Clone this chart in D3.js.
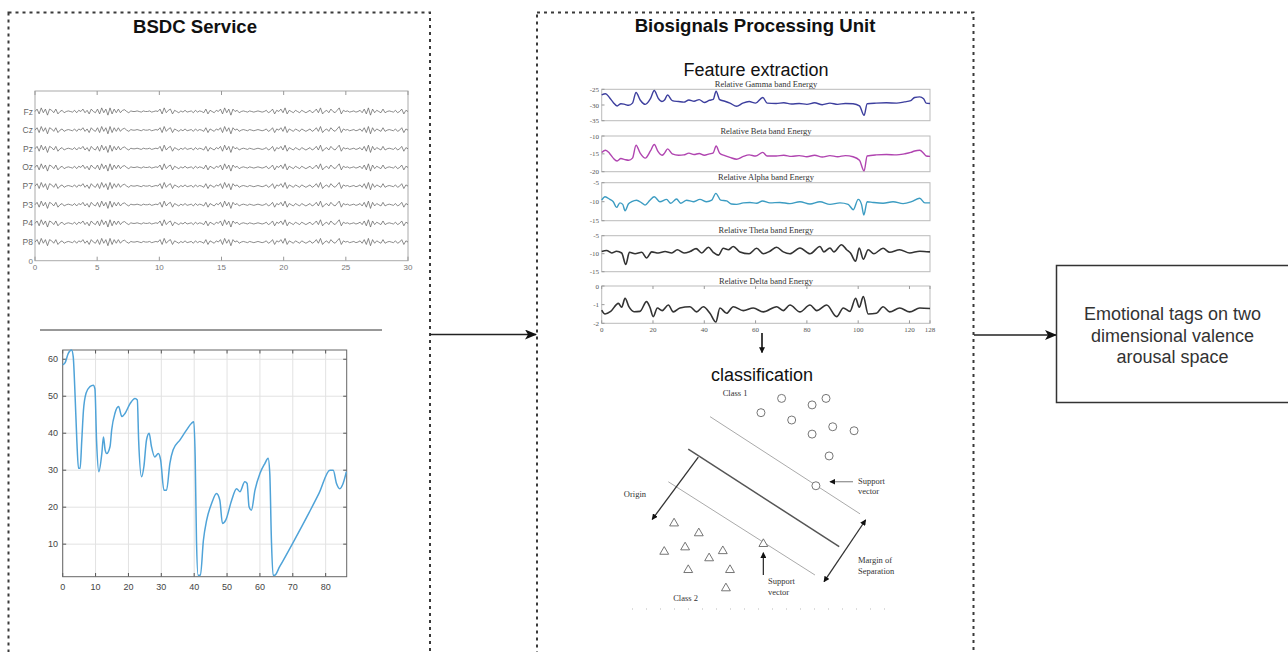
<!DOCTYPE html>
<html><head><meta charset="utf-8">
<script src="https://cdn.jsdelivr.net/npm/d3@7"></script>
<style>body{margin:0;background:#fff}svg{display:block}</style>
</head><body><svg id="c" width="1288" height="652"></svg>
<script>
// ---------------- DATA ----------------
const eegChannels = ["Fz","Cz","Pz","Oz","P7","P3","P4","P8"];
const eegTicks = [0,5,10,15,20,25,30];
const eegSamples = [0,2,-2,3,-1,2,-3,2,1,-1, 2,-2,0,1,-1,0,0.5,0,-0.5,1, -1,1,0,2,-1,1,-2,2,0,-1,
  2,-2,3,-1,2,-3,3,-2,2,-1, 2,-1,1,1.5,0,-1,0.5,0,0,0.5, 0,-0.5,0.5,0,0,0.5,-0.5,0,0.5,0,
  2,-2,3,-1,1,2,-2,1,0,-1, 0.5,-0.5,1,-0.5,0,0.5,-1,1,-0.5,0.5, 0,-1,2,-2,1,0,-1,1,0,2,
  -2,3,-1,2,-3,2,0,1,-1,0, 0.5,0,-0.5,0.5,0,-0.5,0,0.5,0,-0.5, 0,1,-1,0,2,-2,1,0,2,-1,
  3,-2,1,0,-1,1,0,-1,1,0, -1,0,1,-1,0,2,-1,3,-2,0, 1,-1,2,0,-1,1,3,-2,1,0,
  0.5,-0.5,0,0.5,-0.5,0,1,-1,2,-2, 3,-3,2,-1,1,0,-1,2,-1,0, 0.5,0,-0.5,1,-1,0,2,-2,1,0];

const blueX = [0,0.7,1.7,2.7,3.2,3.7,4.3,4.8,5.3,5.8,6.3,7.1,8.3,9.3,9.8,10.3,11,11.9,12.4,12.9,13.4,14.4,14.9,15.9,17,18,19,20.5,22,22.7,23.1,24,24.7,25.5,26.3,27,28,29.1,29.8,30.8,31.6,32.6,33.6,35.7,37.7,39.2,39.9,40.3,40.7,41.2,41.9,42.8,43.8,45.3,46.8,47.8,48.6,49.6,51.4,52.9,53.9,55.4,56.1,56.7,57.4,58.5,60,61.5,62.5,63,63.5,64,64.5,66,70,75,78,81.3,82.3,83.3,84.3,85.3,86.3];
const blueY = [58.5,59,61.6,62.5,60.7,51.7,38,30.5,30.5,38,46,50.8,52.6,53,52,38,29.6,34.5,39,35.5,34.5,36.4,40.9,45.4,47.2,44.5,45.4,48,49.4,49,38.2,28.2,31,38.2,40,36.4,33.6,34.5,32.7,24.6,24.6,31.8,35.5,38.2,40.9,42.7,43.1,33.6,11,1.6,1.6,11,16.5,21,23.7,21.9,15.6,16.5,21.9,25,24.2,26.9,26.4,20.1,19.2,24.6,29.1,31.8,33.2,29.1,11,1.6,1.6,3.9,10.3,18.6,23.8,30,30,26.4,25,26.4,29.6];
const blueXTicks = [0,10,20,30,40,50,60,70,80];
const blueYTicks = [10,20,30,40,50,60];

const bandTitles = ["Relative Gamma band Energy","Relative Beta band Energy","Relative Alpha band Energy","Relative Theta band Energy","Relative Delta band Energy"];
const bandTicks = [[-25,-30,-35],[-10,-15,-20],[-5,-10,-15],[-5,-10,-15],[0,-1,-2]];
const bandXTicks = [0,20,40,60,80,100,120,128];
const gammaPts = [[0,-26.8],[1.5,-26.4],[3,-27.6],[4.5,-29.2],[6,-30.3],[7.5,-29.6],[9,-29.8],[10.5,-30.1],[12,-29.4],[13.4,-26.0],[15,-28.4],[17,-29.8],[19,-28],[20.5,-25.4],[22,-27.8],[23.5,-28.9],[24.5,-28.4],[25.7,-26.8],[27.5,-28.6],[30,-28.9],[32,-29.1],[34,-28.4],[36,-28.8],[38,-28.3],[40,-29.2],[42,-28.5],[43.5,-28.2],[44.6,-25.6],[46,-28.3],[48,-28.8],[50,-29.4],[52.6,-30.4],[55,-29.4],[57.5,-28.9],[60,-29.4],[62.8,-27.6],[64.5,-29.4],[68,-29.5],[71,-29.3],[74,-29.7],[77,-29.5],[80,-29.8],[83,-29.3],[86,-29.9],[89,-29.4],[92,-29.8],[95,-29.5],[98,-29.6],[100.5,-30.3],[102.3,-33.3],[103.5,-29.6],[107,-29.4],[111,-29.3],[115,-29.4],[118,-29.0],[120.5,-28.6],[122,-27.6],[124,-27.4],[125.5,-28.0],[126.5,-29.4],[128,-29.5]];
const betaPts = [[0,-14.6],[1.5,-14.0],[3,-14.8],[4.5,-16.2],[6,-17.0],[7.5,-16.3],[9,-16.6],[10.5,-16.8],[12,-16.2],[13.4,-12.6],[15,-14.8],[17,-16.2],[19,-14.2],[20.5,-12.4],[22,-14.4],[23.5,-15.4],[24.5,-14.8],[25.7,-13.6],[27.5,-15.0],[30,-15.4],[32,-15.3],[34,-14.8],[36,-15.2],[38,-14.9],[40,-15.4],[42,-15.0],[43.5,-14.7],[44.6,-12.8],[46,-14.8],[48,-15.5],[50,-16.0],[52.6,-16.5],[55,-15.8],[57.5,-15.3],[60,-15.6],[62.8,-14.6],[64.5,-15.6],[68,-15.6],[71,-15.4],[74,-15.7],[77,-15.5],[80,-15.8],[83,-15.4],[86,-15.9],[89,-15.5],[92,-15.8],[95,-15.5],[98,-15.8],[100.5,-16.8],[102.3,-19.8],[103.5,-15.6],[107,-15.3],[111,-15.2],[115,-15.3],[118,-15.0],[120.5,-14.6],[122,-14.2],[124,-14.0],[125.5,-14.8],[126.5,-15.6],[128,-15.7]];
const alphaPts = [[0,-9.6],[1.3,-8.7],[3.2,-9.4],[4.5,-10],[5.8,-11.5],[7.1,-10.3],[8.2,-10.7],[9.1,-12.4],[10.4,-10.6],[11.7,-10],[13.6,-9.6],[15.6,-10.3],[16.9,-10.9],[18.8,-9.6],[20.5,-8.7],[22.7,-10],[25.3,-9.4],[26.9,-10.4],[29.2,-9.3],[30.8,-10.4],[33.1,-9.6],[35.7,-10],[38.3,-9.4],[40.9,-10],[42.9,-9.6],[44.5,-7.8],[46.4,-9.6],[48.7,-9.8],[50.6,-10.6],[52.6,-10.7],[55.2,-10.3],[57.8,-10.2],[60.4,-10.4],[62.7,-9.8],[65.6,-10.3],[69.5,-10.2],[73.4,-10.5],[77.3,-10],[81.2,-10.6],[85.1,-10],[89,-10.7],[92.9,-10.3],[96.1,-10.7],[98.1,-12.1],[100,-9.4],[101.3,-10.7],[102.2,-13.5],[103.5,-10],[105.8,-10.2],[109.7,-10.4],[113.6,-10],[117.5,-10.5],[120.8,-10],[124,-9.1],[126,-10.3],[128,-10.3]];
const thetaPts = [[0,-9.4],[1.9,-9.1],[3.9,-9.8],[5.8,-9.3],[7.8,-9.8],[9.4,-13],[10.8,-9.6],[13,-10],[15.6,-9.6],[17.5,-11.2],[19.5,-9.5],[22.1,-9.8],[24.7,-9.4],[27.3,-9.8],[29.5,-8.9],[32.1,-9.8],[34.4,-9.4],[36.8,-8.6],[39,-9.8],[41.6,-8.2],[43.5,-9.6],[45.5,-10.4],[47.4,-8.5],[49.4,-8.9],[51.3,-8],[53.9,-9.5],[57.5,-10],[60.4,-8.5],[63,-10],[65.6,-9.3],[68.2,-8.2],[70.8,-9.5],[73.4,-10],[77.3,-8.4],[81.2,-10],[85.1,-8],[86.6,-9.5],[89,-8.4],[90.5,-9.5],[93.5,-7.5],[95.5,-8.9],[97,-9.8],[99,-12.1],[100.4,-8.4],[102,-11.5],[103.9,-8.9],[106.1,-10],[109.7,-8.5],[112.3,-9.6],[116.2,-8.9],[120.1,-9.8],[124,-9.3],[128,-9.5]];
const deltaPts = [[0,-1.29],[1.3,-1.5],[3.5,-1.36],[6.5,-0.93],[7.8,-1.14],[9.1,-0.66],[10.6,-1.11],[12.6,-1.38],[14.9,-1.36],[17.5,-0.84],[18.8,-1.14],[20.1,-1.64],[21.7,-1.18],[23.6,-1.32],[26,-1.02],[27.9,-1.39],[30.5,-1.18],[34.4,-1.11],[37,-1.39],[39.6,-1.11],[42.2,-1.46],[44.5,-1.93],[46.1,-1.18],[48.7,-1.46],[51.3,-1.11],[55.2,-1.32],[59.1,-1.18],[63,-1.39],[68.2,-1.11],[70.8,-1.32],[73.4,-1.02],[77.3,-1.39],[81.2,-1.02],[83.8,-1.32],[87.7,-1.02],[91.6,-1.64],[94.2,-1.18],[96.8,-1.36],[99,-0.66],[100.4,-1.14],[102,-0.57],[103.9,-1.5],[107.1,-1.46],[109.7,-1.11],[112.3,-1.39],[116.2,-1.18],[120.1,-1.39],[124,-1.18],[128,-1.21]];

const class1Pts = [[59,4],[77.5,4],[71.7,7.1],[50.4,10.8],[63.2,14.3],[80.3,17.5],[71.7,21],[89.2,19.4],[78.8,31.4],[73.3,45.6]];
const class2Pts = [[14.2,63.5],[24.5,68.2],[51.4,73.3],[10.1,77],[18.8,74.9],[34.5,76.7],[28.8,80.1],[20.1,85.7],[37.5,85.7],[35.8,94.4]];
const upperMargin = [[29.2,12.7],[91.7,59]];
const hyperplane = [[20.1,28.2],[83,74.6]];
const lowerMargin = [[11.8,43.7],[72.9,88.1]];
const originVec = [[24.3,32],[5.1,61.6]];
const supportVecArrow1 = [[88.75,43.7],[79.2,43.7]];
const marginArrow = [[94,61.9],[76.7,91.3]];
const supportVecArrow2 = [[51.4,88.1],[51.4,77.5]];

const boxLines = ["Emotional tags on two","dimensional valence","arousal space"];

// ---------------- DRAW ----------------
const svg = d3.select("#c");
const SANS = "'Liberation Sans', Arial, Helvetica, sans-serif";
const SERIF = "'Liberation Serif', 'Times New Roman', serif";

const defs = svg.append("defs");
defs.append("marker").attr("id","big").attr("viewBox","0 0 12 10").attr("refX",11).attr("refY",5)
  .attr("markerWidth",12).attr("markerHeight",10).attr("markerUnits","userSpaceOnUse").attr("orient","auto")
  .append("path").attr("d","M0,0 L12,5 L0,10 L3,5 Z").attr("fill","#111");
defs.append("marker").attr("id","small").attr("viewBox","0 0 8 8").attr("refX",7).attr("refY",4)
  .attr("markerWidth",6).attr("markerHeight",6).attr("markerUnits","userSpaceOnUse").attr("orient","auto")
  .append("path").attr("d","M0,0 L8,4 L0,8 Z").attr("fill","#111");
defs.append("marker").attr("id","smallStart").attr("viewBox","0 0 8 8").attr("refX",1).attr("refY",4)
  .attr("markerWidth",6).attr("markerHeight",6).attr("markerUnits","userSpaceOnUse").attr("orient","auto")
  .append("path").attr("d","M8,0 L0,4 L8,8 Z").attr("fill","#111");

// dashed containers
[[8.5,12.5,421.5,700],[537,12.5,436.5,700]].forEach(b=>{
  svg.append("rect").attr("x",b[0]).attr("y",b[1]).attr("width",b[2]).attr("height",b[3])
    .attr("fill","none").attr("stroke","#3a3a3a").attr("stroke-width",2).attr("stroke-dasharray","3,4");
});
svg.append("text").attr("x",195).attr("y",33).attr("text-anchor","middle").attr("font-family",SANS)
  .attr("font-weight","bold").attr("font-size",18.6).attr("fill","#111").text("BSDC Service");
svg.append("text").attr("x",755).attr("y",32).attr("text-anchor","middle").attr("font-family",SANS)
  .attr("font-weight","bold").attr("font-size",18.6).attr("fill","#111").text("Biosignals Processing Unit");

// ---- EEG panel ----
const eegX = d3.scaleLinear().domain([0,30]).range([35,408]);
const eegY = d3.scaleLinear().domain([0,9.1]).range([260.7,91]);
const eg = svg.append("g");
eg.append("rect").attr("x",35).attr("y",91).attr("width",373).attr("height",169.7)
  .attr("fill","none").attr("stroke","#aaa").attr("stroke-width",1);
eegTicks.forEach(t=>{
  eg.append("line").attr("x1",eegX(t)).attr("x2",eegX(t)).attr("y1",91).attr("y2",95).attr("stroke","#999");
  eg.append("line").attr("x1",eegX(t)).attr("x2",eegX(t)).attr("y1",260.7).attr("y2",256.7).attr("stroke","#999");
  eg.append("text").attr("x",eegX(t)).attr("y",270).attr("text-anchor","middle").attr("font-family",SANS)
    .attr("font-size",8).attr("fill","#777").text(t);
});
eg.append("text").attr("x",33).attr("y",eegY(0)+3).attr("text-anchor","end").attr("font-family",SANS)
  .attr("font-size",8).attr("fill","#777").text("0");
const nS = eegSamples.length;
eegChannels.forEach((ch,i)=>{
  const base = 8 - i;
  const line = d3.line().x((d,j)=>eegX(j/(nS-1)*30)).y(d=>eegY(base + d*0.065));
  eg.append("path").attr("d",line(eegSamples)).attr("fill","none").attr("stroke","#666").attr("stroke-width",0.75);
  eg.append("text").attr("x",33).attr("y",eegY(base)+3).attr("text-anchor","end").attr("font-family",SANS)
    .attr("font-size",8.5).attr("fill","#666").text(ch);
});

// separator line
svg.append("line").attr("x1",40).attr("x2",382).attr("y1",330).attr("y2",330).attr("stroke","#333").attr("stroke-width",1);

// ---- Blue chart ----
const bx = d3.scaleLinear().domain([0,86.4]).range([62.7,346.7]);
const by = d3.scaleLinear().domain([1.2,62.5]).range([576.7,350]);
const bg = svg.append("g");
blueXTicks.forEach(t=>{
  bg.append("line").attr("x1",bx(t)).attr("x2",bx(t)).attr("y1",350).attr("y2",576.7).attr("stroke","#e2e2e2");
  bg.append("line").attr("x1",bx(t)).attr("x2",bx(t)).attr("y1",576.7).attr("y2",573).attr("stroke","#555");
  bg.append("line").attr("x1",bx(t)).attr("x2",bx(t)).attr("y1",350).attr("y2",353.5).attr("stroke","#555");
  bg.append("text").attr("x",bx(t)).attr("y",590).attr("text-anchor","middle").attr("font-family",SANS)
    .attr("font-size",9).attr("fill","#444").text(t);
});
blueYTicks.forEach(t=>{
  bg.append("line").attr("x1",62.7).attr("x2",346.7).attr("y1",by(t)).attr("y2",by(t)).attr("stroke","#e2e2e2");
  bg.append("line").attr("x1",62.7).attr("x2",66.2).attr("y1",by(t)).attr("y2",by(t)).attr("stroke","#555");
  bg.append("line").attr("x1",346.7).attr("x2",343.2).attr("y1",by(t)).attr("y2",by(t)).attr("stroke","#555");
  bg.append("text").attr("x",58).attr("y",by(t)+3).attr("text-anchor","end").attr("font-family",SANS)
    .attr("font-size",9).attr("fill","#444").text(t);
});
bg.append("rect").attr("x",62.7).attr("y",350).attr("width",284).attr("height",226.7)
  .attr("fill","none").attr("stroke","#666").attr("stroke-width",1);
const bLine = d3.line().x((d,i)=>bx(blueX[i])).y(d=>by(d)).curve(d3.curveMonotoneX);
bg.append("path").attr("d",bLine(blueY)).attr("fill","none").attr("stroke","#4fa3d8").attr("stroke-width",1.5);

// ---- Feature extraction ----
svg.append("text").attr("x",756).attr("y",76).attr("text-anchor","middle").attr("font-family",SANS)
  .attr("font-size",18).attr("fill","#111").text("Feature extraction");
const fx = d3.scaleLinear().domain([0,128]).range([601.7,930]);
const bandTops = [89.3,136,182.7,235.7,286];
const bandBots = [120.7,171.7,220.7,271.7,323.3];
const bandData = [gammaPts,betaPts,alphaPts,thetaPts,deltaPts];
const bandColors = ["#3d3f9e","#b044b0","#3c9cc2","#333","#333"];
const bandWidths = [1.4,1.4,1.4,1.6,1.6];
bandTitles.forEach((title,k)=>{
  const ticks = bandTicks[k];
  const fy = d3.scaleLinear().domain([ticks[2],ticks[0]]).range([bandBots[k],bandTops[k]]);
  const g = svg.append("g");
  g.append("rect").attr("x",601.7).attr("y",bandTops[k]).attr("width",328.3).attr("height",bandBots[k]-bandTops[k])
    .attr("fill","none").attr("stroke","#bbb").attr("stroke-width",1);
  g.append("text").attr("x",766).attr("y",bandTops[k]-2.5).attr("text-anchor","middle").attr("font-family",SERIF)
    .attr("font-size",8.5).attr("fill","#333").text(title);
  ticks.forEach(t=>{
    g.append("text").attr("x",599).attr("y",fy(t)+2.5).attr("text-anchor","end").attr("font-family",SERIF)
      .attr("font-size",7).attr("fill","#555").text(t);
    g.append("line").attr("x1",601.7).attr("x2",604.5).attr("y1",fy(t)).attr("y2",fy(t)).attr("stroke","#999");
  });
  const ln = d3.line().x(d=>fx(d[0])).y(d=>fy(d[1])).curve(d3.curveMonotoneX);
  g.append("path").attr("d",ln(bandData[k])).attr("fill","none").attr("stroke",bandColors[k]).attr("stroke-width",bandWidths[k]);
  if(k===4){
    bandXTicks.forEach(t=>{
      g.append("line").attr("x1",fx(t)).attr("x2",fx(t)).attr("y1",bandBots[k]).attr("y2",bandBots[k]-3).attr("stroke","#999");
      g.append("line").attr("x1",fx(t)).attr("x2",fx(t)).attr("y1",bandTops[k]).attr("y2",bandTops[k]+3).attr("stroke","#999");
      g.append("text").attr("x",fx(t)).attr("y",332).attr("text-anchor","middle").attr("font-family",SERIF)
        .attr("font-size",7).attr("fill","#555").text(t);
    });
  }
});

// down arrow
svg.append("line").attr("x1",762).attr("x2",762).attr("y1",333).attr("y2",352.5)
  .attr("stroke","#111").attr("stroke-width",1.6).attr("marker-end","url(#small)");

// ---- classification ----
svg.append("text").attr("x",762).attr("y",381).attr("text-anchor","middle").attr("font-family",SANS)
  .attr("font-size",18).attr("fill","#111").text("classification");
const sx = d3.scaleLinear().domain([0,100]).range([640,880]);
const sy = d3.scaleLinear().domain([0,100]).range([390,600]);
const sg = svg.append("g");
const seg = (p,stroke,w)=>sg.append("line").attr("x1",sx(p[0][0])).attr("y1",sy(p[0][1])).attr("x2",sx(p[1][0])).attr("y2",sy(p[1][1]))
  .attr("stroke",stroke).attr("stroke-width",w);
seg(upperMargin,"#aaa",1);
seg(lowerMargin,"#aaa",1);
seg(hyperplane,"#555",1.5);
seg(originVec,"#333",1.3).attr("marker-end","url(#small)");
seg(supportVecArrow1,"#555",0.8).attr("marker-end","url(#small)");
seg(marginArrow,"#333",1.3).attr("marker-end","url(#small)").attr("marker-start","url(#smallStart)");
seg(supportVecArrow2,"#333",1.3).attr("marker-end","url(#small)");
sg.selectAll("circle.c1").data(class1Pts).enter().append("circle")
  .attr("cx",d=>sx(d[0])).attr("cy",d=>sy(d[1])).attr("r",4).attr("fill","#fff").attr("stroke","#666").attr("stroke-width",0.9);
const tri = d3.symbol().type(d3.symbolTriangle).size(34);
sg.selectAll("path.c2").data(class2Pts).enter().append("path")
  .attr("d",tri).attr("transform",d=>`translate(${sx(d[0])},${sy(d[1])})`)
  .attr("fill","#fff").attr("stroke","#666").attr("stroke-width",0.9);
const lab = (x,y,t,anchor)=>sg.append("text").attr("x",sx(x)).attr("y",sy(y)).attr("text-anchor",anchor||"start")
  .attr("font-family",SERIF).attr("font-size",8.5).attr("fill","#333").text(t);
lab(39.6,2.8,"Class 1","middle");
lab(19,100.4,"Class 2","middle");
lab(-2.1,51,"Origin","middle");
lab(90.8,44.6,"Support");
lab(90.8,49.6,"vector");
lab(90.8,82.3,"Margin of");
lab(90.8,87.8,"Separation");
lab(53.3,92.3,"Support");
lab(53.3,97.4,"vector");
// faint remnants of cropped text
svg.append("line").attr("x1",632).attr("x2",895).attr("y1",609).attr("y2",609)
  .attr("stroke","#bbb").attr("stroke-width",1).attr("stroke-dasharray","1,13");

// ---- flow arrows ----
svg.append("line").attr("x1",430).attr("x2",536).attr("y1",334.5).attr("y2",334.5)
  .attr("stroke","#222").attr("stroke-width",1.3).attr("marker-end","url(#big)");
svg.append("line").attr("x1",974).attr("x2",1056).attr("y1",335).attr("y2",335)
  .attr("stroke","#222").attr("stroke-width",1.3).attr("marker-end","url(#big)");

// ---- right box ----
svg.append("rect").attr("x",1056.5).attr("y",265.5).attr("width",245).attr("height",137)
  .attr("fill","#fff").attr("stroke","#333").attr("stroke-width",1.5);
boxLines.forEach((t,i)=>{
  svg.append("text").attr("x",1172.5).attr("y",320+i*21.5).attr("text-anchor","middle").attr("font-family",SANS)
    .attr("font-size",18).attr("fill","#333").text(t);
});
</script></body></html>
